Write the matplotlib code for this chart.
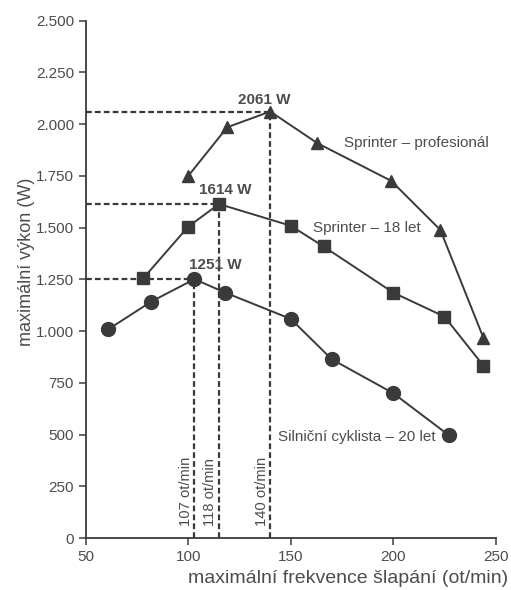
import matplotlib
matplotlib.use("Agg")
import matplotlib.pyplot as plt
from matplotlib.ticker import FuncFormatter

plt.rcParams['font.family'] = ['Liberation Sans', 'DejaVu Sans']

# Data
pro_x = [100, 119, 140, 163, 199, 223, 244]
pro_y = [1750, 1985, 2061, 1908, 1726, 1489, 968]
jun_x = [78, 100, 115, 150, 166, 200, 225, 244]
jun_y = [1255, 1505, 1614, 1509, 1409, 1186, 1070, 833]
road_x = [61, 82, 103, 118, 150, 170, 200, 227]
road_y = [1009, 1143, 1251, 1186, 1059, 864, 700, 498]

peak_x = [140, 115, 103]
peak_y = [2061, 1614, 1251]
peak_labels = ["2061 W", "1614 W", "1251 W"]
rpm_labels = ["140 ot/min", "118 ot/min", "107 ot/min"]

series_labels = ["Sprinter – profesionál", "Sprinter – 18 let", "Silniční cyklista – 20 let"]

x_ticks = [50, 100, 150, 200, 250]
y_ticks = [0, 250, 500, 750, 1000, 1250, 1500, 1750, 2000, 2250, 2500]

line_c = '#3a3a3a'
text_c = '#4d4d4d'

fig = plt.figure(figsize=(5.11, 5.90), dpi=100)
ax = fig.add_axes([0.168, 0.088, 0.802, 0.877])

# dashed guide lines
for px, py in zip(peak_x, peak_y):
    ax.plot([50, px], [py, py], ls=(0, (2.6, 1.4)), color=line_c, lw=1.6, zorder=1)
    ax.plot([px, px], [0, py], ls=(0, (2.6, 1.4)), color=line_c, lw=1.6, zorder=1)

ax.plot(pro_x, pro_y, color=line_c, lw=1.4, marker='^', ms=9, zorder=3)
ax.plot(jun_x, jun_y, color=line_c, lw=1.4, marker='s', ms=8.5, zorder=3)
ax.plot(road_x, road_y, color=line_c, lw=1.4, marker='o', ms=10, zorder=3)

# peak labels
ax.text(137, 2085, peak_labels[0], ha='center', va='bottom', fontsize=11, fontweight='bold', color=text_c)
ax.text(118, 1650, peak_labels[1], ha='center', va='bottom', fontsize=11, fontweight='bold', color=text_c)
ax.text(113, 1288, peak_labels[2], ha='center', va='bottom', fontsize=11, fontweight='bold', color=text_c)

# rpm labels
for px, lab in zip(peak_x, rpm_labels):
    ax.text(px - 0.8, 60, lab, rotation=90, ha='right', va='bottom', fontsize=10.6, color=text_c)

# series labels
ax.text(176, 1908, series_labels[0], ha='left', va='center', fontsize=11, color=text_c)
ax.text(161, 1500, series_labels[1], ha='left', va='center', fontsize=11, color=text_c)
ax.text(144, 490, series_labels[2], ha='left', va='center', fontsize=11, color=text_c)

ax.set_xlim(50, 250)
ax.set_ylim(0, 2500)
ax.set_xticks(x_ticks)
ax.set_yticks(y_ticks)
ax.yaxis.set_major_formatter(FuncFormatter(lambda v, p: f"{int(v):,}".replace(",", ".")))
ax.tick_params(colors=text_c, labelsize=11, length=5, width=1.2)
for s in ['top', 'right']:
    ax.spines[s].set_visible(False)
for s in ['left', 'bottom']:
    ax.spines[s].set_color(line_c)
    ax.spines[s].set_linewidth(1.3)

ax.set_ylabel("maximální výkon (W)", fontsize=13, color=text_c)
ax.yaxis.set_label_coords(-0.125, 0.534)
ax.set_xlabel("maximální frekvence šlapání (ot/min)", fontsize=14, color=text_c, ha='right')
ax.xaxis.set_label_coords(1.03, -0.062)
ax.xaxis.label.set_va('top')

fig.savefig("out.png", dpi=100)
